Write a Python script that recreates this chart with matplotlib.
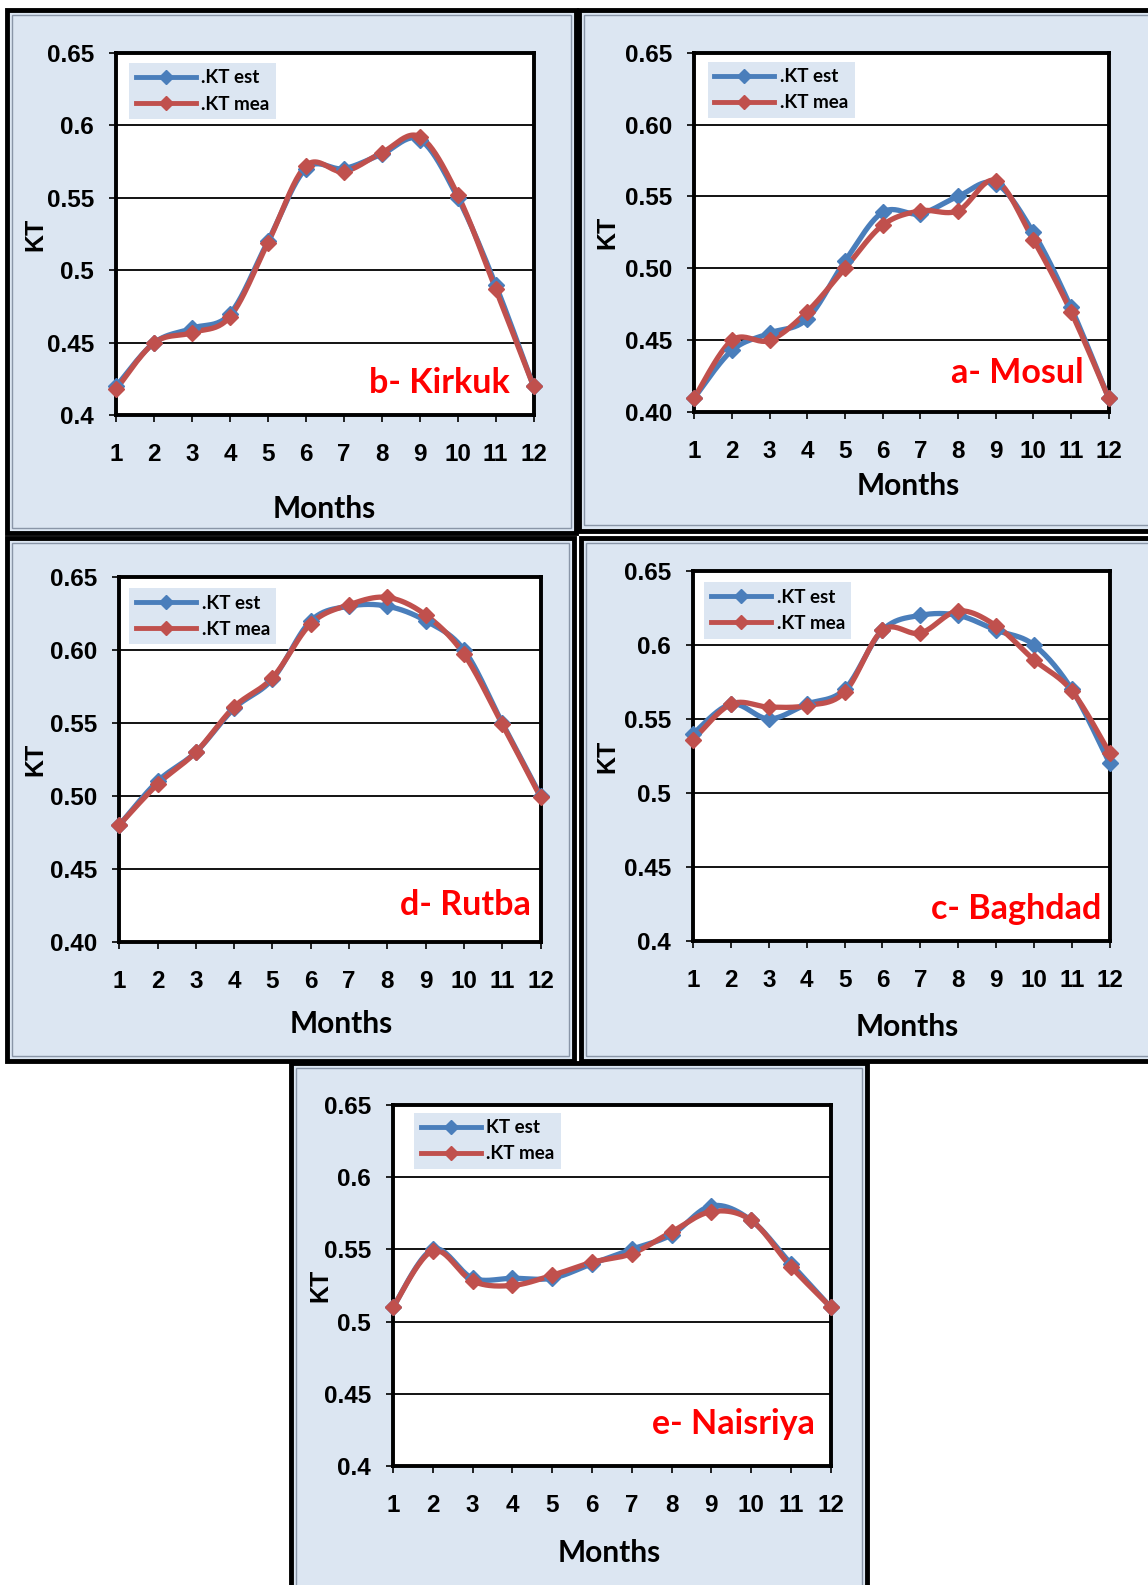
import numpy as np
import matplotlib.pyplot as plt
from matplotlib.patches import Rectangle
from matplotlib.ticker import FuncFormatter, FormatStrFormatter

plt.rcParams['font.family'] = ['Liberation Sans', 'DejaVu Sans']
plt.rcParams['font.weight'] = 'bold'

months = list(range(1, 13))

# KT values
kirkuk_est = [0.420, 0.450, 0.460, 0.470, 0.520, 0.570, 0.570, 0.580, 0.590, 0.550, 0.490, 0.420]
kirkuk_mea = [0.418, 0.450, 0.457, 0.468, 0.519, 0.572, 0.568, 0.581, 0.592, 0.552, 0.487, 0.420]

mosul_est = [0.410, 0.443, 0.455, 0.465, 0.505, 0.539, 0.538, 0.550, 0.559, 0.525, 0.473, 0.410]
mosul_mea = [0.410, 0.450, 0.450, 0.470, 0.500, 0.530, 0.540, 0.540, 0.561, 0.520, 0.470, 0.410]

rutba_est = [0.480, 0.510, 0.530, 0.560, 0.580, 0.620, 0.630, 0.630, 0.620, 0.600, 0.550, 0.500]
rutba_mea = [0.480, 0.508, 0.530, 0.561, 0.581, 0.618, 0.631, 0.636, 0.624, 0.597, 0.549, 0.499]

baghdad_est = [0.540, 0.560, 0.550, 0.560, 0.570, 0.610, 0.620, 0.620, 0.610, 0.600, 0.570, 0.520]
baghdad_mea = [0.536, 0.560, 0.558, 0.559, 0.568, 0.610, 0.608, 0.623, 0.613, 0.590, 0.569, 0.527]

naisriya_est = [0.510, 0.550, 0.530, 0.530, 0.530, 0.540, 0.550, 0.560, 0.580, 0.570, 0.540, 0.510]
naisriya_mea = [0.510, 0.549, 0.528, 0.525, 0.532, 0.541, 0.547, 0.562, 0.576, 0.570, 0.538, 0.510]

yticks = [0.40, 0.45, 0.50, 0.55, 0.60, 0.65]

BLUE = '#4a7ebb'
RED = '#c0504d'
PANEL = '#dce6f2'

W, H = 1148, 1585
S = 1148 / 1136  # layout measured on the 1136 px wide copy


def fx(p):
    return p * S / W


def fy(p):
    return 1 - p * S / H


def smooth(x, y, n=24):
    # excel style smoothed line (catmull-rom) through the points
    x = np.asarray(x, float)
    y = np.asarray(y, float)
    px = np.concatenate([[x[0]], x, [x[-1]]])
    py = np.concatenate([[y[0]], y, [y[-1]]])
    t = np.linspace(0, 1, n, endpoint=False)
    xs, ys = [], []
    for i in range(1, len(px) - 2):
        for p, out in ((px, xs), (py, ys)):
            p0, p1, p2, p3 = p[i - 1], p[i], p[i + 1], p[i + 2]
            out.extend(0.5 * (2 * p1 + (-p0 + p2) * t
                              + (2 * p0 - 5 * p1 + 4 * p2 - p3) * t ** 2
                              + (-p0 + 3 * p1 - 3 * p2 + p3) * t ** 3))
    xs.append(x[-1])
    ys.append(y[-1])
    return xs, ys


fig = plt.figure(figsize=(11.48, 15.85), dpi=100)


def panel(frame, box, est, mea, name, name_pos, leg_pos, months_pos, kt_x,
          two_dec=False, est_label='.KT est'):
    x0, y0, x1, y1 = frame
    fig.add_artist(Rectangle((fx(x0), fy(y1)), fx(x1) - fx(x0), fy(y0) - fy(y1),
                             transform=fig.transFigure, facecolor=PANEL,
                             edgecolor='black', lw=3.5, zorder=-5))
    fig.add_artist(Rectangle((fx(x0 + 5), fy(y1 - 5)), fx(x1 - 5) - fx(x0 + 5),
                             fy(y0 + 5) - fy(y1 - 5), transform=fig.transFigure,
                             facecolor='none', edgecolor='#8a96a8', lw=1, zorder=-4))
    l, t, r, b = box
    ax = fig.add_axes([fx(l), fy(b), fx(r) - fx(l), fy(t) - fy(b)])
    ax.set_facecolor('white')
    ax.set_xlim(1, 12)
    ax.set_ylim(0.40, 0.65)
    ax.set_xticks(months)
    ax.set_yticks(yticks)
    if two_dec:
        ax.yaxis.set_major_formatter(FormatStrFormatter('%.2f'))
    else:
        ax.yaxis.set_major_formatter(FuncFormatter(lambda v, p: ('%.2f' % v).rstrip('0')))
    ax.grid(axis='y', color='black', lw=1.3)
    ax.set_axisbelow(True)
    for sp in ax.spines.values():
        sp.set_linewidth(2.8)
    ax.tick_params(direction='out', length=5, width=1.2, labelsize=17.5)
    ax.tick_params(axis='y', pad=11)
    ax.tick_params(axis='x', pad=15)

    for vals, col, lab in ((est, BLUE, est_label), (mea, RED, '.KT mea')):
        sx, sy = smooth(months, vals)
        ax.plot(sx, sy, color=col, lw=3.8, clip_on=False, zorder=3)
        ax.plot(months, vals, ls='none', marker='D', ms=8, color=col,
                clip_on=False, zorder=4)
        ax.plot([], [], color=col, lw=3.5, marker='D', ms=7.5, label=lab)

    leg = ax.legend(loc='upper left', bbox_to_anchor=leg_pos, borderaxespad=0,
                    frameon=True, fancybox=False, handlelength=3.2,
                    handletextpad=0.3, borderpad=0.35, labelspacing=0.5,
                    prop={'family': 'Lato', 'weight': 'bold', 'size': 13.5})
    leg.get_frame().set_facecolor(PANEL)
    leg.get_frame().set_edgecolor('none')
    leg.get_frame().set_alpha(1)

    ax.text(name_pos[0], name_pos[1], name, transform=ax.transAxes, ha='right',
            va='center', color='#ff0000', fontfamily='Lato', fontweight='bold',
            fontsize=24.5)
    fig.text(fx(months_pos[0]), fy(months_pos[1]), 'Months', ha='center',
             va='center', fontfamily='Lato', fontweight='bold', fontsize=21.5)
    fig.text(fx(kt_x), fy((t + b) / 2), 'KT', rotation=90, ha='center',
             va='center', fontweight='bold', fontsize=18)
    return ax


panel((7, 10, 570, 527), (115, 52, 528, 411), kirkuk_est, kirkuk_mea,
      'b- Kirkuk', (0.944, 0.089), (0.031, 0.972), (321, 504), 35)
panel((573, 10, 1145, 525), (687, 52, 1097, 408), mosul_est, mosul_mea,
      'a- Mosul', (0.939, 0.11), (0.032, 0.975), (899, 481), 601, two_dec=True)
panel((7, 532, 568, 1050), (118, 571, 535, 932), rutba_est, rutba_mea,
      'd- Rutba', (0.976, 0.102), (0.024, 0.97), (338, 1013), 35, two_dec=True)
panel((575, 532, 1145, 1050), (686, 565, 1098, 931), baghdad_est, baghdad_mea,
      'c- Baghdad', (0.981, 0.085), (0.027, 0.97), (898, 1016), 601)
panel((288, 1052, 858, 1575), (389, 1093, 822, 1451), naisriya_est, naisriya_mea,
      'e- Naisriya', (0.965, 0.117), (0.048, 0.978), (603, 1537), 317,
      est_label='KT est')

fig.savefig('out.png', dpi=100)
